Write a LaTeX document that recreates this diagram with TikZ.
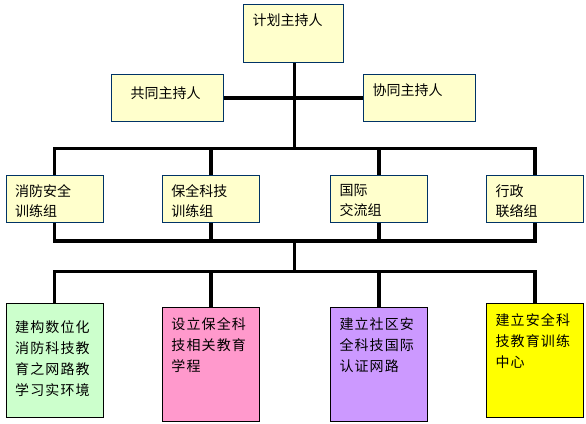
\documentclass[tikz,border=0pt]{standalone}
\usepackage{fontspec}
\usepackage{xcolor}
\usepackage{tikz}
\usetikzlibrary{positioning}
\newfontfamily\cjk{Noto Sans CJK SC}
\newfontfamily\cjkwide[LetterSpace=8]{Noto Sans CJK SC}
\definecolor{myblue}{RGB}{0,51,102}
\definecolor{hdryellow}{RGB}{255,255,204}
\definecolor{hdrgreen}{RGB}{204,255,204}
\definecolor{hdrpink}{RGB}{255,153,204}
\definecolor{hdrpurple}{RGB}{204,153,255}
\definecolor{hdrgold}{RGB}{255,255,0}
\tikzset{
  block/.style={rectangle, draw=myblue, fill=hdryellow, line width=0.9pt,
    inner sep=0pt, anchor=north west, minimum width=96.5pt, minimum height=46.7pt},
  taskblock/.style={rectangle, draw=black, line width=0.9pt, inner sep=0pt,
    anchor=north west, minimum width=96.5pt, minimum height=113.4pt},
  boxtext/.style={inner sep=0pt, align=left, anchor=north west,
    font=\cjk\fontsize{14}{20}\selectfont},
  tasktext/.style={inner sep=0pt, align=left, anchor=north west,
    font=\cjkwide\fontsize{14}{21}\selectfont},
  bar/.style={line width=3.3pt, color=black}
}
\begin{document}
\begin{tikzpicture}[x=1pt, y=-1pt]
  \useasboundingbox (0,0) rectangle (586,423);

  % Nodes
  \node[block, minimum width=99.4pt, minimum height=58pt] (lead) at (243.4,4.3) {};
  \node[block, minimum width=111.4pt] (co1) at (111.4,74.3) {};
  \node[block, minimum width=111.4pt] (co2) at (363.4,74.3) {};

  \node[block] (grp1) at (6,175) {};
  \node[block] (grp2) at (162.2,175) {};
  \node[block] (grp3) at (330.3,175) {};
  \node[block] (grp4) at (486.4,175) {};

  \node[taskblock, fill=hdrgreen] (task1) at (6,303.3) {};
  \node[taskblock, fill=hdrpink] (task2) at (162.2,307.3) {};
  \node[taskblock, fill=hdrpurple] (task3) at (330.3,307.3) {};
  \node[taskblock, fill=hdrgold] (task4) at (486.4,303.3) {};

  % Texts
  \node[boxtext, below right=9.4pt and 9pt of lead.north west] (leadtxt) {计划主持人};
  \node[boxtext, below right=12.7pt and 19pt of co1.north west] (co1txt) {共同主持人};
  \node[boxtext, below right=9.4pt and 9pt of co2.north west] (co2txt) {协同主持人};

  \node[boxtext, below right=9.2pt and 9pt of grp1.north west] (grp1txt) {消防安全\\训练组};
  \node[boxtext, below right=9.2pt and 9pt of grp2.north west] (grp2txt) {保全科技\\训练组};
  \node[boxtext, below right=9.2pt and 9pt of grp3.north west] (grp3txt) {国际\\交流组};
  \node[boxtext, below right=9.2pt and 9pt of grp4.north west] (grp4txt) {行政\\联络组};

  \node[tasktext, below right=16.8pt and 9pt of task1.north west] (task1txt) {建构数位化\\消防科技教\\育之网路教\\学习实环境};
  \node[tasktext, below right=9.7pt and 9pt of task2.north west] (task2txt) {设立保全科\\技相关教育\\学程};
  \node[tasktext, below right=9.7pt and 9pt of task3.north west] (task3txt) {建立社区安\\全科技国际\\认证网路};
  \node[tasktext, below right=10.4pt and 9pt of task4.north west] (task4txt) {建立安全科\\技教育训练\\中心};

  % Connectors
  \coordinate (bus1) at (294.6,148.3);
  \coordinate (bus2) at (294.6,241);
  \coordinate (bus3) at (294.6,271.7);

  \draw[bar] (bus1 |- lead.south) -- (bus1);
  \draw[bar] (co1.east) -- (co2.west);

  \draw[bar] (grp1.north) |- (bus1) -| (grp4.north);
  \draw[bar] (grp1.south) |- (bus2) -| (grp4.south);
  \foreach \g in {grp2,grp3} {
    \draw[bar] (\g.north) -- (\g.north |- bus1);
    \draw[bar] (\g.south) -- (\g.south |- bus2);
  }

  \draw[bar] (bus2) -- (bus3);
  \draw[bar] (task1.north) |- (bus3) -| (task4.north);
  \foreach \t in {task2,task3}
    \draw[bar] (\t.north) -- (\t.north |- bus3);
\end{tikzpicture}
\end{document}
